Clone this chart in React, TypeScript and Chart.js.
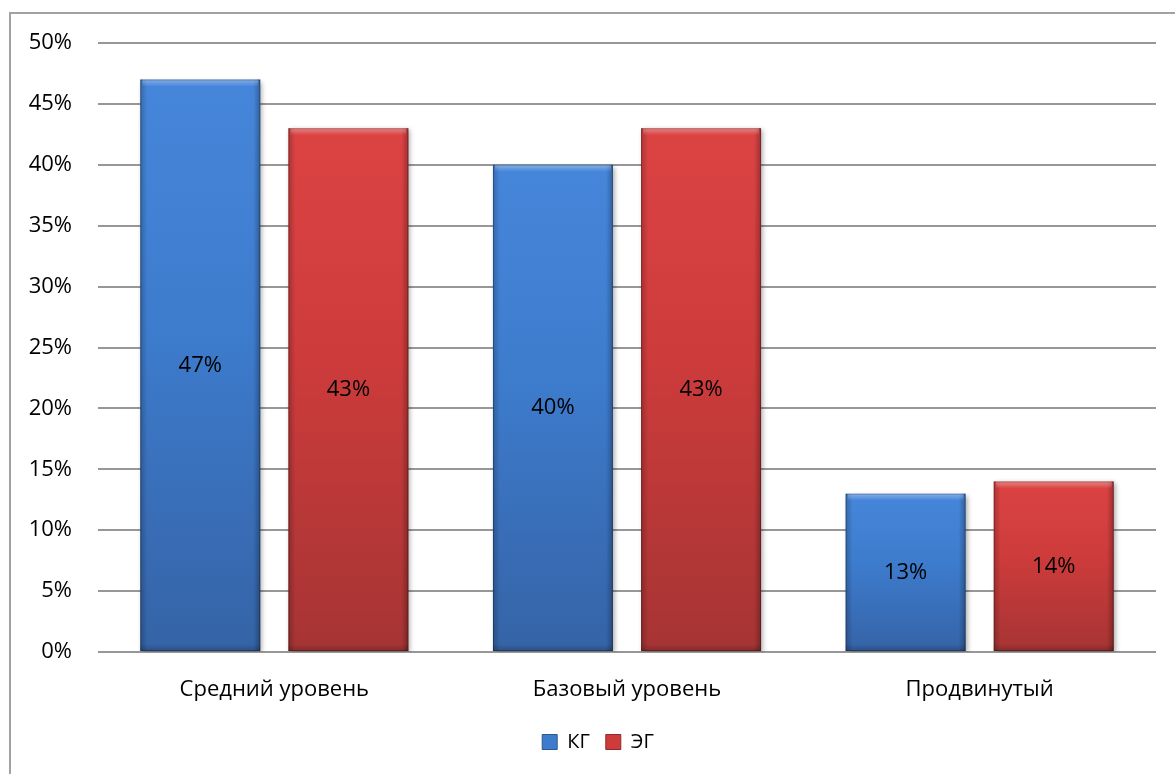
import React, { useEffect, useRef } from "react";
import { Chart, registerables } from "chart.js";

Chart.register(...registerables);

// Category labels and values (percent) for the two groups
const categories = ["Средний уровень", "Базовый уровень", "Продвинутый"];
const seriesNames = ["КГ", "ЭГ"];
const kgValues = [47, 40, 13];
const egValues = [43, 43, 14];
const yTicks = [0, 5, 10, 15, 20, 25, 30, 35, 40, 45, 50];

const FONT = '"Open Sans", "Noto Sans", sans-serif';

const palette = {
  blue: { top: "#4686da", mid: "#3d7bcc", bottom: "#3563a6", edge: "#2d5792" },
  red: { top: "#dc4343", mid: "#cd3b3b", bottom: "#a63434", edge: "#8e2b2b" },
};

function gradientFill(colors: { top: string; mid: string; bottom: string }) {
  return (c: any) => {
    const chart = c.chart;
    if (!chart.chartArea || c.type !== "data") return colors.mid;
    const ys = chart.scales.y;
    const top = ys.getPixelForValue(c.raw as number);
    const bot = ys.getPixelForValue(0);
    const g = chart.ctx.createLinearGradient(0, top, 0, bot);
    g.addColorStop(0, colors.top);
    g.addColorStop(0.45, colors.mid);
    g.addColorStop(1, colors.bottom);
    return g;
  };
}

// Moves the legend block so it is centred under the plot rather than the canvas
const legendShift = {
  id: "legendShift",
  afterLayout(chart: any) {
    if (chart.legend) chart.legend.left += 40;
  },
};

// Soft drop shadow under the bars, bevelled edges and value labels on top
const barDecor = {
  id: "barDecor",
  beforeDatasetsDraw(chart: any) {
    const ctx = chart.ctx;
    ctx.save();
    ctx.shadowColor = "rgba(0,0,0,0.35)";
    ctx.shadowBlur = 5;
    ctx.shadowOffsetX = 2;
    ctx.shadowOffsetY = 2;
  },
  afterDatasetsDraw(chart: any) {
    const ctx = chart.ctx;
    ctx.restore();
    ctx.save();
    chart.data.datasets.forEach((ds: any, di: number) => {
      const meta = chart.getDatasetMeta(di);
      meta.data.forEach((bar: any, i: number) => {
        const { x, y, base, width } = bar.getProps(["x", "y", "base", "width"], true);
        const left = x - width / 2;
        const right = x + width / 2;
        const top = Math.min(y, base);
        const bottom = Math.max(y, base);
        const h = bottom - top;
        const e = 7;
        let g = ctx.createLinearGradient(left, 0, left + e, 0);
        g.addColorStop(0, "rgba(0,0,0,0.22)");
        g.addColorStop(1, "rgba(0,0,0,0)");
        ctx.fillStyle = g;
        ctx.fillRect(left, top, e, h);
        g = ctx.createLinearGradient(right - e, 0, right, 0);
        g.addColorStop(0, "rgba(0,0,0,0)");
        g.addColorStop(1, "rgba(0,0,0,0.28)");
        ctx.fillStyle = g;
        ctx.fillRect(right - e, top, e, h);
        g = ctx.createLinearGradient(0, top, 0, top + e);
        g.addColorStop(0, "rgba(255,255,255,0.35)");
        g.addColorStop(1, "rgba(255,255,255,0)");
        ctx.fillStyle = g;
        ctx.fillRect(left + 2, top, width - 4, e);
        g = ctx.createLinearGradient(0, bottom - e, 0, bottom);
        g.addColorStop(0, "rgba(0,0,0,0)");
        g.addColorStop(1, "rgba(0,0,0,0.2)");
        ctx.fillStyle = g;
        ctx.fillRect(left, bottom - e, width, e);
        ctx.strokeStyle = "rgba(0,0,0,0.25)";
        ctx.lineWidth = 1;
        ctx.strokeRect(left + 0.5, top + 0.5, width - 1, h - 1);

        const v = ds.data[i] as number;
        ctx.fillStyle = "#000";
        ctx.font = `22px ${FONT}`;
        ctx.textAlign = "center";
        ctx.textBaseline = "middle";
        ctx.fillText(`${v}%`, x, (top + bottom) / 2);
      });
    });
    ctx.restore();
  },
};

export default function App() {
  const canvasRef = useRef<HTMLCanvasElement | null>(null);

  useEffect(() => {
    const canvas = canvasRef.current;
    if (!canvas) return;
    const chart = new Chart(canvas, {
      type: "bar",
      data: {
        labels: categories,
        datasets: [
          {
            label: seriesNames[0],
            data: kgValues,
            backgroundColor: gradientFill(palette.blue),
            borderWidth: 0,
            categoryPercentage: 0.84,
            barPercentage: 0.81,
          },
          {
            label: seriesNames[1],
            data: egValues,
            backgroundColor: gradientFill(palette.red),
            borderWidth: 0,
            categoryPercentage: 0.84,
            barPercentage: 0.81,
          },
        ],
      },
      options: {
        responsive: false,
        animation: false,
        layout: { padding: { left: 0, right: 19, top: 43, bottom: 12 } },
        plugins: {
          tooltip: { enabled: false },
          legend: {
            position: "bottom",
            labels: {
              color: "#000",
              font: { family: FONT, size: 20 },
              boxWidth: 15,
              boxHeight: 15,
              padding: 16,
              generateLabels: () =>
                seriesNames.map((name, i) => ({
                  text: name,
                  fillStyle: i === 0 ? palette.blue.mid : palette.red.mid,
                  strokeStyle: i === 0 ? palette.blue.edge : palette.red.edge,
                  lineWidth: 1,
                  hidden: false,
                  datasetIndex: i,
                })),
            },
          },
        },
        scales: {
          x: {
            grid: { display: false },
            border: { display: false },
            ticks: {
              color: "#000",
              font: { family: FONT, size: 22 },
              padding: 17,
              maxRotation: 0,
            },
            afterFit: (s: any) => {
              s.height = 64;
            },
          },
          y: {
            min: 0,
            max: 50,
            afterBuildTicks: (s: any) => {
              s.ticks = yTicks.map((v) => ({ value: v }));
            },
            grid: { color: "#979797", lineWidth: 2, drawTicks: false },
            border: { display: false },
            ticks: {
              color: "#000",
              font: { family: FONT, size: 22 },
              padding: 26,
              callback: (v: any) => `${v}%`,
            },
            afterFit: (s: any) => {
              s.width = 98;
            },
          },
        },
      },
      plugins: [barDecor, legendShift],
    });
    return () => chart.destroy();
  }, []);

  return (
    <div
      style={{
        position: "absolute",
        left: 0,
        top: 0,
        width: 1175,
        height: 774,
        background: "#fff",
        overflow: "hidden",
      }}
    >
      <div
        style={{
          position: "absolute",
          left: 9,
          top: 12,
          width: 1200,
          height: 800,
          border: "2px solid #a2a2a2",
        }}
      />
      <canvas
        ref={canvasRef}
        width={1175}
        height={774}
        style={{ position: "absolute", left: 0, top: 0 }}
      />
    </div>
  );
}
